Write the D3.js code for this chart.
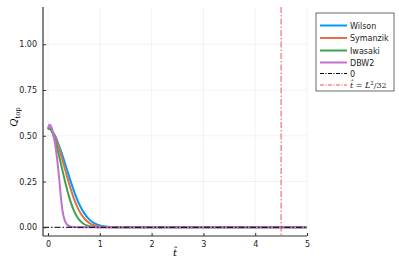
<!DOCTYPE html>
<html>
<head>
<meta charset="utf-8">
<script src="https://cdn.jsdelivr.net/npm/d3@7"></script>
<style>
  body { margin: 0; background: #fff; }
  svg { display: block; font-family: "DejaVu Sans", sans-serif; }
</style>
</head>
<body>
<div class="chart"></div>
<script>
// flow time grid and Q_top values
var tGrid    = [0, 0.025, 0.05, 0.1, 0.15, 0.2, 0.25, 0.3, 0.35, 0.4, 0.45, 0.5, 0.55, 0.6, 0.65, 0.7, 0.8, 0.9, 1.0, 1.1, 1.2, 1.5, 2, 3, 4, 5];
var wilson   = [0.535, 0.538, 0.535, 0.518, 0.492, 0.455, 0.416, 0.374, 0.329, 0.284, 0.24, 0.199, 0.161, 0.128, 0.1, 0.076, 0.042, 0.021, 0.01, 0.0045, 0.0018, 0.0003, 0, 0, 0, 0];
var symanzik = [0.535, 0.54, 0.536, 0.514, 0.483, 0.443, 0.397, 0.346, 0.295, 0.245, 0.199, 0.157, 0.121, 0.091, 0.067, 0.048, 0.023, 0.0099, 0.0039, 0.0014, 0.0005, 0, 0, 0, 0, 0];
var iwasaki  = [0.535, 0.543, 0.538, 0.503, 0.46, 0.406, 0.346, 0.285, 0.226, 0.173, 0.128, 0.091, 0.063, 0.042, 0.027, 0.0166, 0.0057, 0.0017, 0.0004, 0, 0, 0, 0, 0, 0, 0];
// DBW2 drops much faster, so it gets its own finer grid
var dbw2T    = [0, 0.025, 0.05, 0.075, 0.1, 0.125, 0.15, 0.175, 0.2, 0.225, 0.25, 0.275, 0.3, 0.325, 0.35, 0.4, 0.45, 0.5, 1, 2, 3, 4, 5];
var dbw2     = [0.54, 0.56, 0.556, 0.54, 0.51, 0.475, 0.43, 0.375, 0.31, 0.238, 0.16, 0.1, 0.06, 0.037, 0.022, 0.008, 0.003, 0.001, 0, 0, 0, 0, 0];
var seriesNames = ["Wilson", "Symanzik", "Iwasaki", "DBW2"];
var seriesColors = ["#009af9", "#e26f46", "#3da44d", "#c271d2"];
var zeroLevel = 0;
var tL2over32 = 4.5;
var xTicks = [0, 1, 2, 3, 4, 5];
var yTicks = [0, 0.25, 0.5, 0.75, 1.0];

var allSeries = [[tGrid, wilson], [tGrid, symanzik], [tGrid, iwasaki], [dbw2T, dbw2]];

var width = 399, height = 266;
var plot = {left: 43, right: 307, top: 7, bottom: 236};

var svg = d3.select(".chart").append("svg")
    .attr("width", width)
    .attr("height", height);

var x = d3.scaleLinear().domain([-0.097, 5.0]).range([plot.left, plot.right]);
var y = d3.scaleLinear().domain([-0.0475, 1.2035]).range([plot.bottom, plot.top]);

// grid
var grid = svg.append("g");
grid.selectAll(".vg").data(xTicks).enter().append("line")
    .attr("x1", function(d){ return x(d); }).attr("x2", function(d){ return x(d); })
    .attr("y1", plot.top).attr("y2", plot.bottom)
    .attr("stroke", "#000").attr("stroke-opacity", 0.1).attr("stroke-width", 0.5);
grid.selectAll(".hg").data(yTicks).enter().append("line")
    .attr("y1", function(d){ return y(d); }).attr("y2", function(d){ return y(d); })
    .attr("x1", plot.left).attr("x2", plot.right)
    .attr("stroke", "#000").attr("stroke-opacity", 0.1).attr("stroke-width", 0.5);

// curves
var line = d3.line()
    .x(function(d){ return x(d[0]); })
    .y(function(d){ return y(d[1]); })
    .curve(d3.curveMonotoneX);

allSeries.forEach(function(s, i){
    var ts = s[0], vals = s[1];
    svg.append("path")
        .datum(ts.map(function(t, j){ return [t, vals[j]]; }))
        .attr("fill", "none")
        .attr("stroke", seriesColors[i])
        .attr("stroke-width", 2)
        .attr("d", line);
});

// zero line and t = L^2/32 marker
svg.append("line")
    .attr("x1", plot.left).attr("x2", plot.right)
    .attr("y1", y(zeroLevel)).attr("y2", y(zeroLevel))
    .attr("stroke", "#000").attr("stroke-width", 1)
    .attr("stroke-dasharray", "6,2,1.5,2");
svg.append("line")
    .attr("x1", x(tL2over32)).attr("x2", x(tL2over32))
    .attr("y1", plot.top).attr("y2", plot.bottom)
    .attr("stroke", "#ee4f5e").attr("stroke-width", 1)
    .attr("stroke-dasharray", "6,2,1.5,2");

// axes
var xAxis = d3.axisBottom(x).tickValues(xTicks).tickSize(-3).tickPadding(5)
    .tickFormat(d3.format("d"));
var gx = svg.append("g")
    .attr("transform", "translate(0," + plot.bottom + ")")
    .call(xAxis);
var yAxis = d3.axisLeft(y).tickValues(yTicks).tickSize(-3).tickPadding(6)
    .tickFormat(d3.format(".2f"));
var gy = svg.append("g")
    .attr("transform", "translate(" + plot.left + ",0)")
    .call(yAxis);
[gx, gy].forEach(function(g){
    g.select(".domain").attr("stroke", "#333").attr("stroke-width", 1.2)
        .attr("d", g === gx ? "M" + plot.left + ",0H" + plot.right : "M0," + plot.top + "V" + plot.bottom);
    g.selectAll(".tick line").attr("stroke", "#333");
    g.selectAll(".tick text").attr("font-size", 8).attr("fill", "#222")
        .attr("font-family", "DejaVu Sans, sans-serif");
});

// axis labels
svg.append("text")
    .attr("x", x(2.45)).attr("y", 256)
    .attr("text-anchor", "middle")
    .attr("font-family", "DejaVu Serif, serif").attr("font-style", "italic")
    .attr("font-size", 10)
    .text("t\u0302");
var ylab = svg.append("text")
    .attr("transform", "translate(17," + 117 + ") rotate(-90)")
    .attr("text-anchor", "middle")
    .attr("font-family", "DejaVu Serif, serif")
    .attr("font-size", 10);
ylab.append("tspan").attr("font-style", "italic").text("Q");
ylab.append("tspan").attr("font-size", 7).attr("dy", 3).text("top");

// legend
var legend = svg.append("g").attr("transform", "translate(316,13)");
legend.append("rect")
    .attr("width", 78).attr("height", 78)
    .attr("fill", "#fff").attr("stroke", "#444").attr("stroke-width", 0.8);
var legendItems = seriesNames.map(function(n, i){
    return {name: n, color: seriesColors[i], dash: null};
});
legendItems.push({name: "0", color: "#000", dash: "4,1.5,1,1.5"});
legendItems.push({name: "tl", color: "#ee4f5e", dash: "4,1.5,1,1.5"});
var rowY = [12.5, 25, 37.5, 49.5, 60.5, 72];
legendItems.forEach(function(d, i){
    var gr = legend.append("g").attr("transform", "translate(0," + rowY[i] + ")");
    gr.append("line").attr("x1", 4).attr("x2", 31)
        .attr("stroke", d.color).attr("stroke-width", d.dash ? 1 : 2)
        .attr("stroke-dasharray", d.dash);
    if (d.name === "tl") {
        var t = gr.append("text").attr("x", 34).attr("y", 3)
            .attr("font-family", "DejaVu Serif, serif").attr("font-size", 8).attr("fill", "#222");
        t.append("tspan").attr("font-style", "italic").text("t\u0302");
        t.append("tspan").text(" = ");
        t.append("tspan").attr("font-style", "italic").text("L\u0302");
        t.append("tspan").attr("font-size", 5.5).attr("dy", -3.5).text("2");
        t.append("tspan").attr("dy", 3.5).text("/32");
    } else {
        gr.append("text").attr("x", 34).attr("y", 3)
            .attr("font-size", 8).attr("fill", "#222").text(d.name);
    }
});
</script>
</body>
</html>
